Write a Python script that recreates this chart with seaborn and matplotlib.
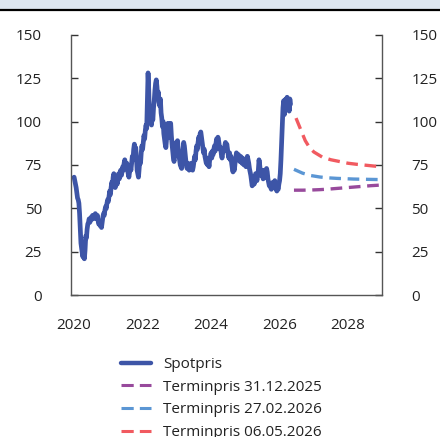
import matplotlib
matplotlib.use("Agg")
import matplotlib.pyplot as plt
import seaborn as sns
import numpy as np
from matplotlib.patches import Rectangle
from matplotlib.lines import Line2D

# spot price, one value every 0.02 years from 2020.00
spot_y = [68, 66, 64, 62, 59, 56, 55, 53, 47, 38,
          30, 27, 24, 22, 28, 21, 26, 34, 33, 38,
          41, 42, 44, 42, 43, 45, 44, 46, 44, 45,
          46, 47, 45, 44, 46, 43, 41, 42, 40, 42,
          39, 42, 45, 47, 46, 49, 51, 50, 53, 55,
          54, 57, 60, 58, 62, 65, 63, 68, 70, 66,
          62, 64, 66, 64, 68, 70, 67, 70, 72, 69,
          71, 74, 72, 76, 78, 75, 73, 76, 72, 70,
          68, 71, 74, 72, 76, 80, 78, 84, 87, 82,
          85, 79, 72, 70, 68, 73, 78, 76, 82, 86,
          84, 88, 92, 90, 95, 98, 96, 112, 128, 118,
          104, 100, 106, 98, 103, 101, 108, 112, 118, 122,
          124, 120, 114, 117, 111, 109, 113, 105, 102, 97,
          100, 93, 90, 87, 85, 90, 96, 99, 94, 91,
          97, 99, 92, 87, 83, 79, 77, 82, 85, 88,
          85, 89, 84, 80, 78, 75, 74, 73, 78, 84,
          88, 86, 82, 78, 75, 73, 76, 74, 72, 75,
          73, 76, 74, 72, 74, 77, 80, 78, 83, 86,
          84, 88, 91, 89, 93, 94, 91, 88, 85, 82,
          84, 80, 78, 76, 79, 75, 77, 74, 78, 80,
          82, 79, 83, 81, 84, 86, 83, 87, 90, 88,
          91, 89, 86, 84, 85, 81, 79, 82, 84, 83,
          86, 88, 85, 87, 84, 81, 79, 82, 78, 80,
          76, 73, 71, 74, 72, 76, 79, 82, 80, 78,
          81, 79, 77, 80, 78, 76, 79, 77, 75, 78,
          76, 74, 77, 80, 78, 76, 73, 71, 69, 66,
          63, 65, 67, 64, 66, 70, 68, 66, 69, 72,
          78, 75, 71, 69, 72, 70, 67, 69, 72, 68,
          70, 73, 71, 67, 65, 63, 64, 62, 61, 63,
          65, 62, 64, 66, 63, 61, 60, 62, 61, 64,
          66, 70, 78, 88, 98, 108, 112, 104, 110, 113,
          107, 114, 109, 112, 106, 113, 110]
spot_x = np.round(2020.0 + 0.02 * np.arange(len(spot_y)), 2)

# forward curves
fwd1_x = [2026.42, 2026.67, 2026.92, 2027.17, 2027.42, 2027.67, 2027.92, 2028.17, 2028.42, 2028.67, 2028.92, 2029.0]
fwd1_y = [60.5, 60.5, 60.6, 60.8, 61.1, 61.5, 61.9, 62.3, 62.7, 63.1, 63.4, 63.5]
fwd2_x = [2026.42, 2026.67, 2026.92, 2027.17, 2027.42, 2027.67, 2027.92, 2028.17, 2028.42, 2028.67, 2028.92, 2029.0]
fwd2_y = [72.5, 70.3, 68.9, 68.1, 67.6, 67.3, 67.1, 66.9, 66.8, 66.7, 66.6, 66.6]
fwd3_x = [2026.48, 2026.625, 2026.75, 2026.875, 2027.0, 2027.25, 2027.5, 2027.75, 2028.0, 2028.25, 2028.5, 2028.75, 2029.0]
fwd3_y = [102, 95, 89, 85, 82.5, 79.5, 78, 77, 76, 75.4, 74.9, 74.4, 74]

labels = ["Spotpris", "Terminpris 31.12.2025", "Terminpris 27.02.2026", "Terminpris 06.05.2026"]
colors = ["#3d55a7", "#984a9c", "#5b96d4", "#f15a60"]

sns.set_style("white")
plt.rcParams["font.family"] = ["Open Sans", "DejaVu Sans"]
plt.rcParams["text.color"] = "#222222"

fig = plt.figure(figsize=(4.4, 4.37), dpi=100)
ax = fig.add_axes([0.1614, 0.3243, 0.7075, 0.5963])

# top band
fig.patches.append(Rectangle((0, 1 - 9 / 437), 1, 9 / 437, transform=fig.transFigure,
                             facecolor="#dde6f1", edgecolor="none"))
fig.add_artist(Line2D([0, 1], [1 - 10 / 437, 1 - 10 / 437], transform=fig.transFigure,
                      color="black", lw=1.6))

sns.lineplot(x=spot_x, y=spot_y, ax=ax, color=colors[0], lw=3.4, sort=False)
for xs, ys, c in [(fwd1_x, fwd1_y, colors[1]), (fwd2_x, fwd2_y, colors[2]), (fwd3_x, fwd3_y, colors[3])]:
    sns.lineplot(x=xs, y=ys, ax=ax, color=c, lw=2.4, linestyle=(0, (3.5, 2)))

ax.set_xlim(2019.91, 2029.0)
ax.set_ylim(0, 150)
ax.set_xticks([2020, 2022, 2024, 2026, 2028])
ax.set_yticks([0, 25, 50, 75, 100, 125, 150])
ax.tick_params(axis="x", length=0, pad=16.5, labelsize=11, labelcolor="#222222")
ax.tick_params(axis="y", direction="in", length=5, width=1, color="#333333", pad=21,
               labelsize=11, labelcolor="#222222", left=True, right=True,
               labelleft=True, labelright=True)
for s in ["left", "right", "bottom"]:
    ax.spines[s].set_color("#555555")
    ax.spines[s].set_linewidth(1)
ax.spines["top"].set_visible(False)
ax.grid(False)

handles = [Line2D([], [], color=colors[0], lw=3.2)]
for c in colors[1:]:
    handles.append(Line2D([], [], color=c, lw=2.2, linestyle=(0, (4, 2))))
fig.legend(handles, labels, loc="upper left", bbox_to_anchor=(121 / 440, 1 - 357 / 437),
           frameon=False, fontsize=11, handlelength=1.95, handletextpad=0.8, labelspacing=0.5,
           borderaxespad=0, borderpad=0)

fig.savefig("out.png", dpi=100)
